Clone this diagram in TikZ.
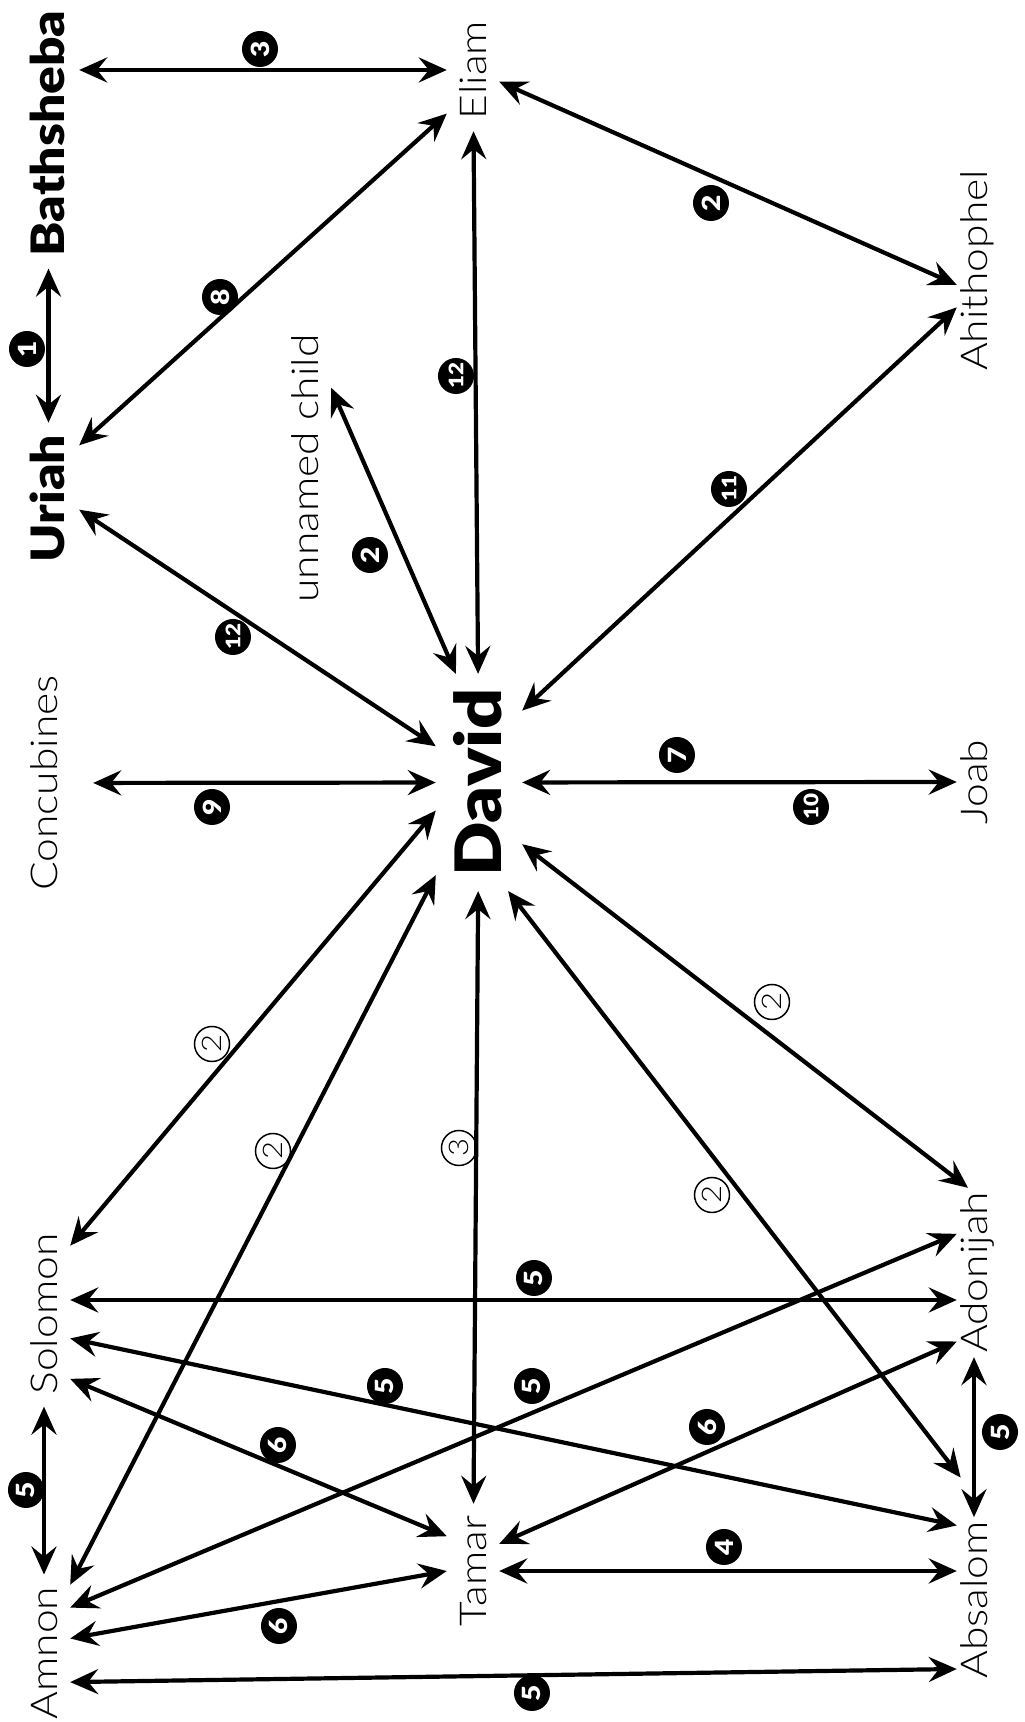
\documentclass[tikz,border=0pt]{standalone}
\usepackage{fontspec}
\usetikzlibrary{arrows.meta}
\setmainfont{Lato}
\IfFontExistsTF{Lato Light}
  {\newfontfamily\namefont[FakeStretch=1.15]{Lato Light}}
  {\newfontfamily\namefont[FakeStretch=1.15]{Lato}}
\IfFontExistsTF{Lato Black}
  {\newfontfamily\heroname[FakeStretch=1.12]{Lato Black}}
  {\newfontfamily\heroname[FakeStretch=1.12]{Lato Bold}}

\tikzset{
  person/.style={font=\namefont\fontsize{37}{40}\selectfont, anchor=base,
    text height=28pt, text depth=0pt, inner xsep=12pt, inner ysep=12pt},
  farperson/.style={person, inner xsep=4pt, inner ysep=3pt},
  hero/.style={font=\heroname\fontsize{46}{50}\selectfont, anchor=base,
    text height=33pt, text depth=0pt, inner xsep=12pt, inner ysep=14pt},
  king/.style={hero, font=\heroname\fontsize{64}{68}\selectfont,
    text height=46pt, inner xsep=14pt, inner ysep=20pt},
  link/.style={line width=4.2pt,
    {Stealth[length=28pt,width=25pt,inset=10pt]}-{Stealth[length=28pt,width=25pt,inset=10pt]}},
  badge/.style={circle, fill=black, text=white, minimum size=36pt, inner sep=0pt,
    font=\heroname\fontsize{25}{25}\selectfont},
  badgetwo/.style={badge, font=\heroname\fontsize{20}{20}\selectfont},
  ring/.style={circle, draw, line width=1.5pt, minimum size=35pt, inner sep=0pt,
    font=\namefont\fontsize{27}{27}\selectfont}
}

\begin{document}
\begin{tikzpicture}[x=1pt, y=1pt, rotate=90, transform shape]
  \useasboundingbox (0,0) rectangle (1722,1025);

  % People
  \node[hero] (bathsheba) at (1588.5,960) {Bathsheba};
  \node[hero] (uriah) at (1223.5,960) {Uriah};
  \node[king] (david) at (939.5,523) {David};
  \node[person] (eliam) at (1652,538) {Eliam};
  \node[farperson] (ahithophel) at (1451.5,37) {Ahithophel};
  \node[person] (child) at (1253.5,706) {unnamed child};
  \node[person, inner ysep=35pt] (concubines) at (939,967) {Concubines};
  \node[farperson] (joab) at (940,37) {Joab};
  \node[person] (solomon) at (408,967) {Solomon};
  \node[person] (amnon) at (69,967) {Amnon};
  \node[person] (tamar) at (151,538) {Tamar};
  \node[farperson] (adonijah) at (449.5,37) {Adonijah};
  \node[farperson] (absalom) at (122,37) {Absalom};

  % Bathsheba's household
  \draw[link] (uriah) -- (bathsheba) node[badge] (n1) at (1373,998) {1};
  \draw[link] (bathsheba.south -| eliam) -- (eliam) node[badge] (n3) at (1673,765) {3};
  \draw[link] (uriah.-30) -- (eliam.149) node[badge] (n8) at (1425,805) {8};
  \draw[link] (eliam.246) -- (ahithophel.130) node[badge] (n2a) at (1519,314) {2};

  % Around David
  \draw[link] (eliam) -- (david) node[badgetwo] (n12a) at (1346,569) {12};
  \draw[link] (ahithophel.155) -- (david.-31) node[badgetwo] (n11) at (1233,296) {11};
  \draw[link] (child.-18) -- (david.12) node[badge] (n2b) at (1167,655) {2};
  \draw[link] (uriah.250) -- (david.50) node[badgetwo] (n12b) at (1085,792) {12};
  \draw[link] (concubines) -- (david) node[badge] (n9) at (915,813) {9};
  \draw[link] (david) -- (joab) node[badge] (n7) at (967,348) {7}
    node[badgetwo] (n10) at (915,214) {10};

  % David's children
  \draw[link] (david.123) -- (solomon.-21) node[ring] (r2a) at (678,813) {2};
  \draw[link] (david.155) -- (amnon.-21) node[ring] (r2b) at (571,752) {2};
  \draw[link] (david) -- (tamar) node[ring] (r3) at (574,566) {3};
  \draw[link, shorten >=50pt] (david.195) -- (absalom.south east) node[ring] (r2c) at (527,313) {2};
  \draw[link] (david.215) -- (adonijah.4) node[ring] (r2d) at (720,253) {2};

  % Among the children
  \draw[link] ([xshift=14pt]solomon.south) -- ([xshift=14pt]solomon.south |- adonijah.north)
    node[badge] (n5a) at (444,491) {5};
  \draw[link] (solomon.227) -- (absalom.13) node[badge] (n5b) at (336,640) {5};
  \draw[link] (solomon.202) -- (tamar.37) node[badge] (n6a) at (277,747) {6};
  \draw[link] (solomon) -- (amnon) node[badge] (n5c) at (232,999) {5};
  \draw[link] (amnon.-30) -- (adonijah.24) node[badge] (n5d) at (336,493) {5};
  \draw[link] (tamar.-44) -- (adonijah.166) node[badge] (n6b) at (295,318) {6};
  \draw[link] (tamar.south) -- (tamar.south |- absalom.north) node[badge] (n4) at (175,301) {4};
  \draw[link] (amnon.-61) -- (tamar.north) node[badge] (n6c) at (96,746) {6};
  \draw[link] (amnon.222) -- (absalom.166) node[badge] (n5e) at (29,493) {5};
  \draw[link] (adonijah) -- (absalom) node[badge] (n5f) at (290,25) {5};
\end{tikzpicture}
\end{document}
